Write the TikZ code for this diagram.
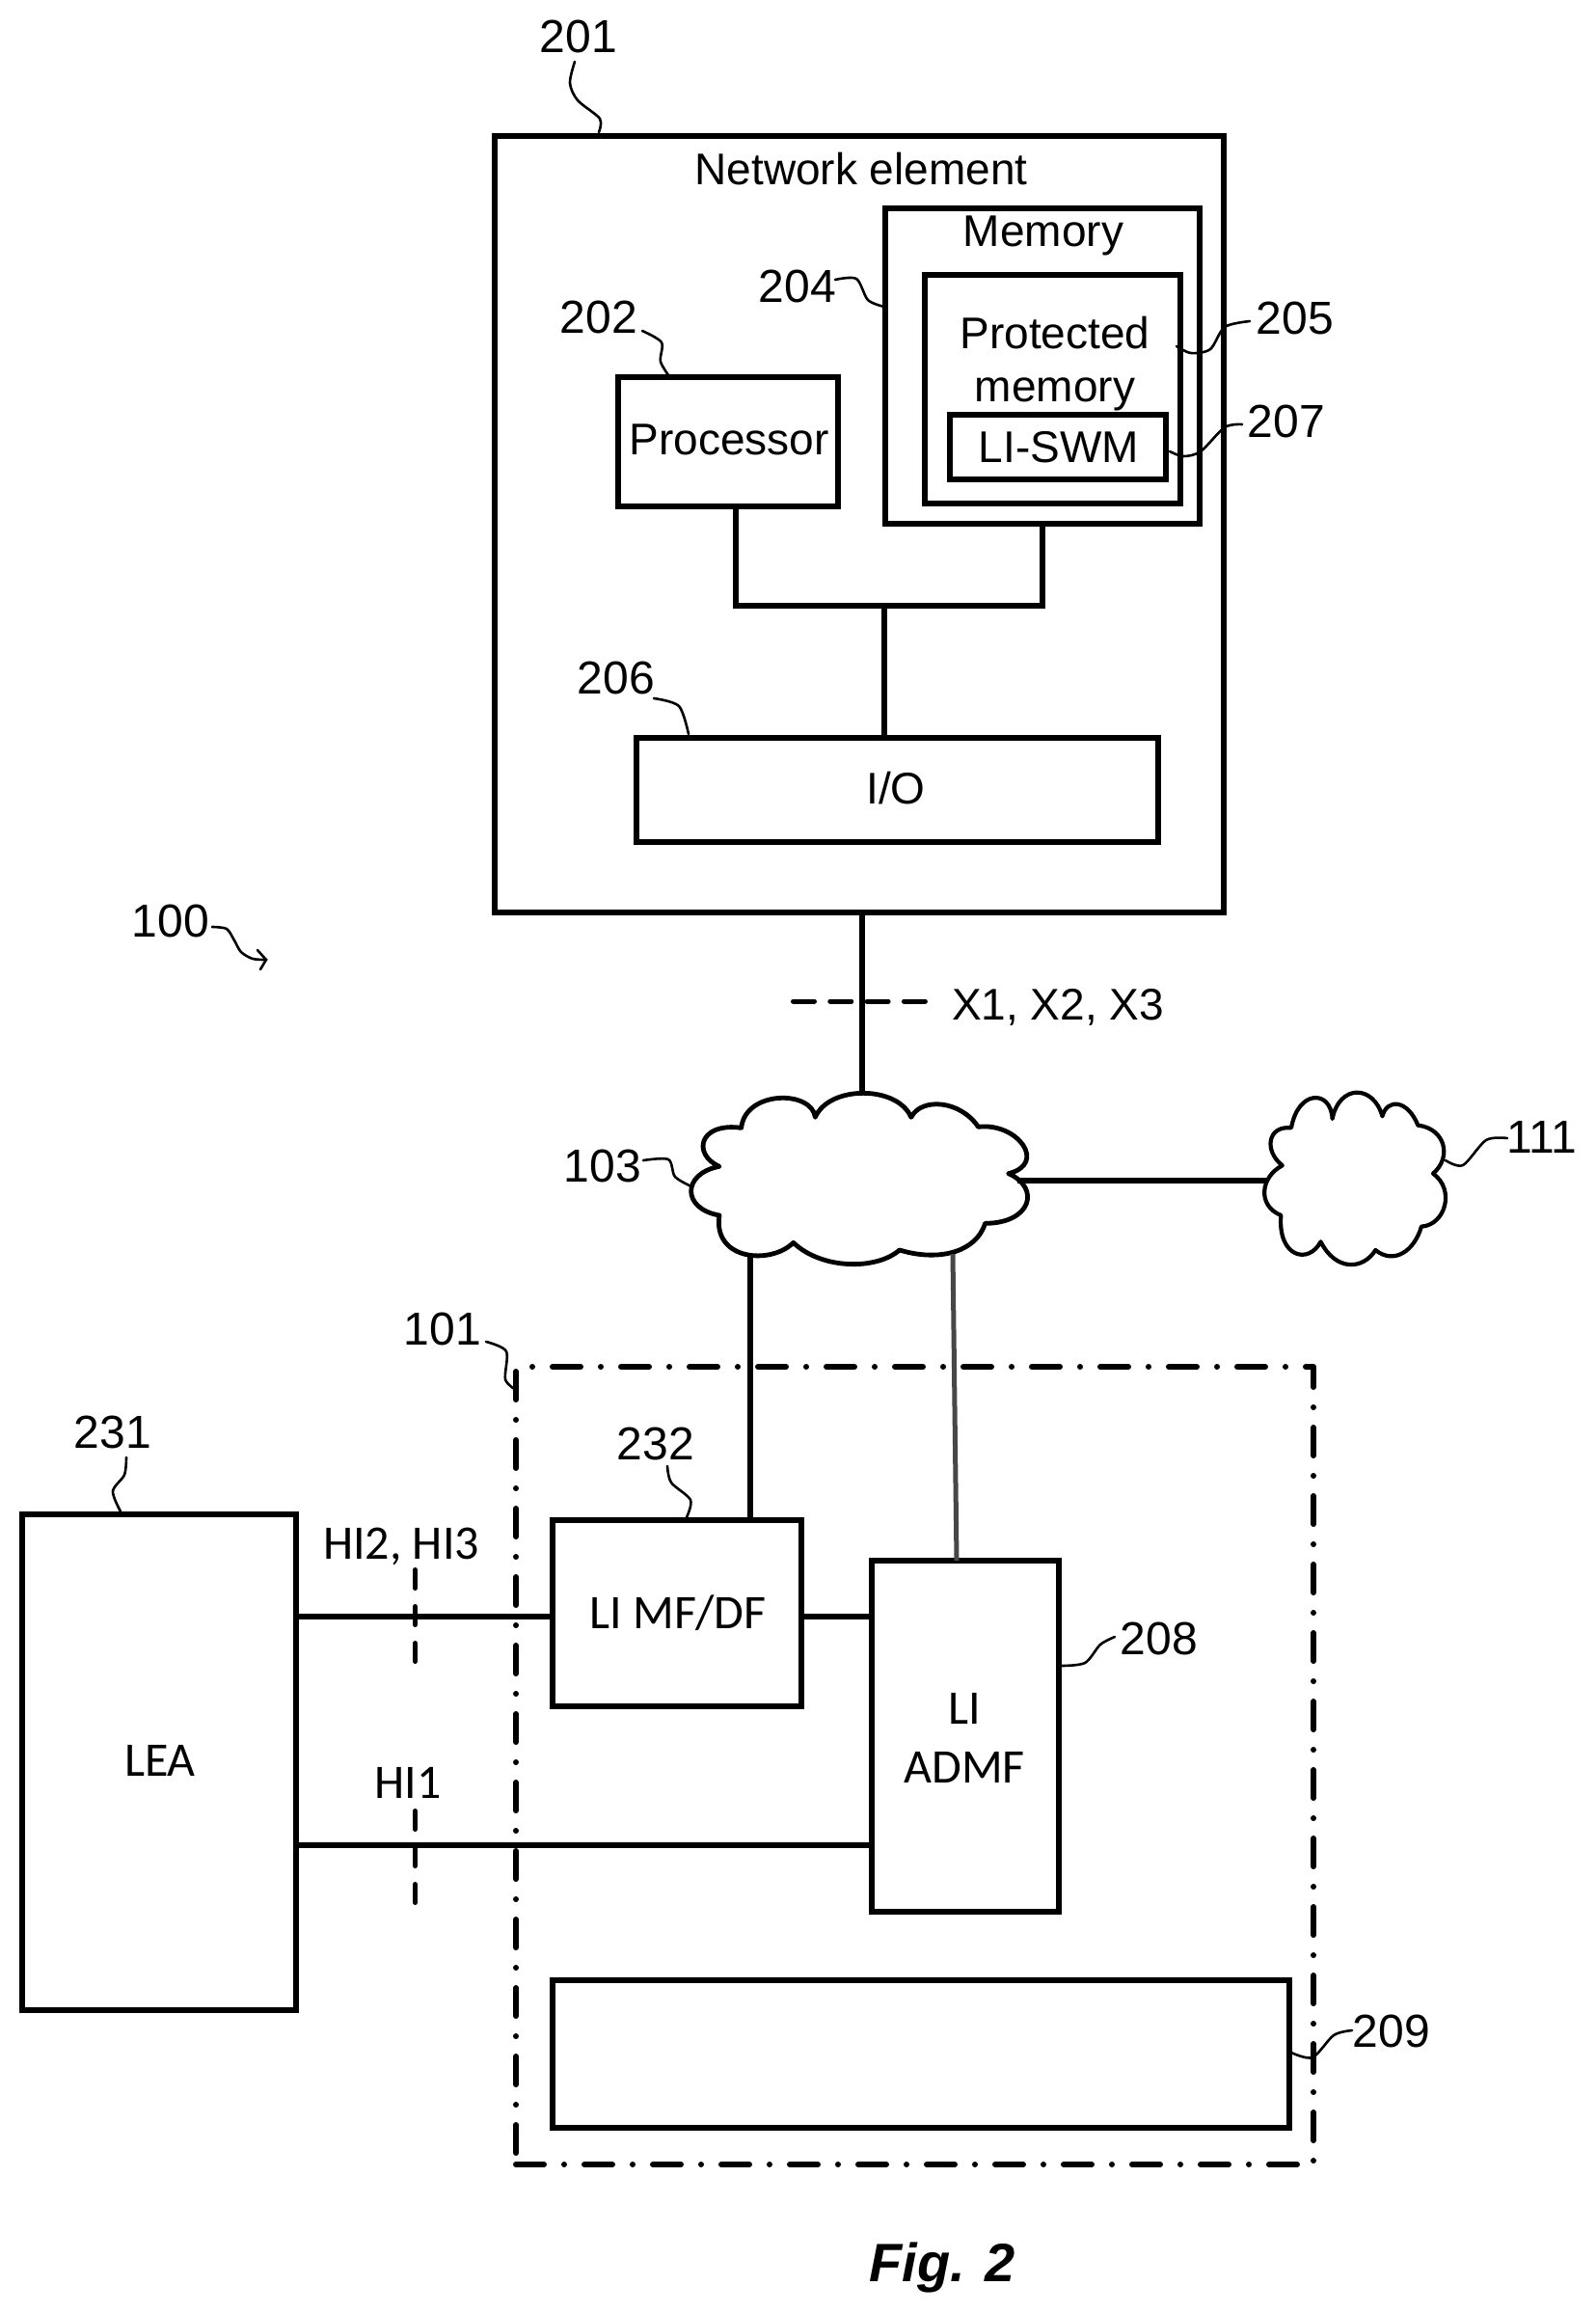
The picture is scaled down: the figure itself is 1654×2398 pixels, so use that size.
\documentclass[tikz,border=0pt]{standalone}
\usepackage{fontspec}
\setmainfont{Liberation Sans}
\newfontfamily\calib{Carlito}
\tikzset{
  boxn/.style={draw=black,line width=5.5pt,inner sep=0pt,outer sep=0pt,rectangle,line join=miter},
  artxt/.style={inner sep=0pt,outer sep=0pt,font=\fontsize{46}{50}\selectfont,text height=33pt,text depth=0pt},
  numtxt/.style={inner sep=0pt,outer sep=0pt,font=\fontsize{48}{52}\selectfont,text height=34pt,text depth=0pt},
  caltxt/.style={inner sep=0pt,outer sep=0pt,font=\calib\fontsize{50}{54}\selectfont,text height=32pt,text depth=0pt},
  wire/.style={line width=5.5pt,black},
  thinwire/.style={line width=5pt,black!72},
  leader/.style={line width=2.6pt,black,line cap=round},
  cloudline/.style={line width=4.8pt,black,line join=round},
  tickline/.style={line width=5pt,black,line cap=round,dash pattern=on 19pt off 19pt},
  frameline/.style={line width=6pt,black,line cap=round,line join=round,dash pattern=on 29pt off 21pt on 0.01pt off 20.99pt},
}
\begin{document}
\begin{tikzpicture}[x=1pt,y=-1pt]
\useasboundingbox (0,0) rectangle (1654,2398);
\fill[white] (0,0) rectangle (1654,2398);

% boxes
\node[boxn,minimum width=756pt,minimum height=805pt] (net) at (891,543.5) {};
\node[boxn,minimum width=326pt,minimum height=327pt] (mem) at (1081,379.5) {};
\node[boxn,minimum width=265pt,minimum height=237pt] (prot) at (1091.5,403.5) {};
\node[boxn,minimum width=224pt,minimum height=67pt] (swm) at (1097,463.5) {};
\node[boxn,minimum width=228pt,minimum height=134pt] (proc) at (755,458) {};
\node[boxn,minimum width=541pt,minimum height=108pt] (io) at (930.5,819) {};
\node[boxn,minimum width=258pt,minimum height=193pt] (mfdf) at (702,1672.5) {};
\node[boxn,minimum width=194pt,minimum height=364pt] (admf) at (1001,1800) {};
\node[boxn,minimum width=764pt,minimum height=153pt] (blank) at (955,2129.5) {};
\node[boxn,minimum width=284pt,minimum height=514pt] (lea) at (165,1827) {};

% clouds
\begin{scope}[shift={(540,1050)},x=0.7102pt,y=-0.3333pt]
\draw[cloudline] (322,358) .. controls (328,240) and (425,240) .. (430,325)
 .. controls (450,225) and (550,225) .. (570,325)
 .. controls (585,262) and (642,272) .. (668,355)
 .. controls (725,340) and (770,470) .. (712,500)
 .. controls (760,545) and (745,655) .. (678,655)
 .. controls (665,745) and (610,775) .. (553,738)
 .. controls (520,800) and (440,800) .. (398,715)
 .. controls (365,785) and (280,770) .. (290,630)
 .. controls (235,610) and (235,500) .. (290,478)
 .. controls (250,440) and (260,340) .. (322,358) -- cycle;
\draw[cloudline,line width=4.2pt] (1125,358) .. controls (1135,238) and (1183,238) .. (1185,330)
 .. controls (1195,222) and (1245,222) .. (1258,322)
 .. controls (1265,265) and (1295,270) .. (1310,350)
 .. controls (1350,360) and (1360,450) .. (1332,500)
 .. controls (1365,550) and (1350,660) .. (1315,665)
 .. controls (1305,740) and (1275,785) .. (1248,738)
 .. controls (1230,800) and (1190,805) .. (1168,712)
 .. controls (1150,785) and (1105,760) .. (1110,630)
 .. controls (1075,600) and (1080,510) .. (1112,475)
 .. controls (1085,430) and (1090,350) .. (1125,358) -- cycle;
\end{scope}
\coordinate (cA-top) at (894,1133);
\coordinate (cA-right) at (1055,1224);
\coordinate (cB-left) at (1314,1224);
\coordinate (cA-bl) at (778,1303);
\coordinate (cA-br) at (988,1300);

% wires
\coordinate (j1) at (763,628);
\coordinate (j2) at (1081,628);
\coordinate (j3) at (917,628);
\coordinate (j4) at (992,1618);
\draw[wire,line join=miter] (j1 |- proc.south) -- (j1) -- (j2) -- (j2 |- mem.south);
\draw[wire] (j3) -- (j3 |- io.north);
\draw[wire] (cA-top |- net.south) -- (cA-top);
\draw[wire] (cA-right) -- (cB-left);
\draw[wire] (cA-bl) -- (cA-bl |- mfdf.north);
\draw[thinwire] (cA-br) -- (j4);
\coordinate (hy1) at (0,1676);
\coordinate (hy2) at (0,1913);
\draw[wire] (hy1 -| lea.east) -- (hy1 -| mfdf.west);
\draw[wire] (hy1 -| mfdf.east) -- (hy1 -| admf.west);
\draw[wire] (hy2 -| lea.east) -- (hy2 -| admf.west);

% ticks
\coordinate (tx1) at (822.5,1038); \coordinate (tx2) at (959.5,1038);
\coordinate (t2a) at (430.5,1627.5); \coordinate (t2b) at (430.5,1722.5);
\coordinate (t1a) at (430.5,1877.5); \coordinate (t1b) at (430.5,1972.5);
\draw[tickline,dash pattern=on 22pt off 16.3pt] (tx1) -- (tx2);
\draw[tickline] (t2a) -- (t2b);
\draw[tickline] (t1a) -- (t1b);

% frame
\coordinate (ftl) at (535,1417); \coordinate (ftr) at (1362,1417);
\coordinate (fbl) at (535,2244); \coordinate (fbr) at (1362,2244);
\draw[frameline,dash phase=33pt] (ftl) -- (ftr) -- (fbr) -- (fbl);
\draw[frameline,dash phase=66pt] (ftl) -- (fbl);

% texts
\node[numtxt] (t201) at (600,37.5) {201};
\node[artxt] (tnet) at (893,175) {Network element};
\node[artxt] (tmem) at (1082,239) {Memory};
\node[numtxt] (t204) at (827,296) {204};
\node[numtxt] (t202) at (621,328) {202};
\node[artxt] (tprot) at (1094,345) {Protected};
\node[artxt] (tprot2) at (1094,399.5) {memory};
\node[artxt] (tswm) at (1098,462.5) {LI-SWM};
\node[artxt] (tproc) at (756,455) {Processor};
\node[numtxt] (t205) at (1343,329) {205};
\node[numtxt] (t207) at (1334,436) {207};
\node[numtxt] (t206) at (639,702) {206};
\node[artxt] (tio) at (929,817) {I/O};
\node[numtxt] (t100) at (177,954) {100};
\node[artxt] (tx) at (1097,1041) {X1, X2, X3};
\node[numtxt] (t103) at (625,1208) {103};
\node[numtxt] (t111) at (1599,1178) {111};
\node[numtxt] (t101) at (459,1377) {101};
\node[numtxt] (t231) at (117,1484) {231};
\node[numtxt] (t232) at (680,1496) {232};
\node[numtxt] (t208) at (1202,1698) {208};
\node[numtxt] (t209) at (1443,2105) {209};
\node[caltxt] (thi2) at (416,1600) {HI2, HI3};
\node[caltxt] (thi1) at (423,1848) {HI1};
\node[caltxt] (tlea) at (166,1825) {LEA};
\node[caltxt] (tmf) at (703,1672) {LI MF/DF};
\node[caltxt] (tli) at (1000,1771) {LI};
\node[caltxt] (tad) at (1000,1832) {ADMF};
\node[inner sep=0pt,font=\bfseries\itshape\fontsize{56}{60}\selectfont,text height=40pt,text depth=0pt] (tfig) at (977,2345) {Fig. 2};

% leaders
\draw[leader] plot[smooth] coordinates {(596,64) (591,86) (599,104) (622,123) (621,137)};
\draw[leader] plot[smooth] coordinates {(866,290) (888,289) (900,311) (917,318)};
\draw[leader] plot[smooth] coordinates {(666,343) (686,355) (685,375) (696,393)};
\draw[leader] plot[smooth] coordinates {(1220,359) (1235,366) (1255,362) (1270,339) (1296,333)};
\draw[leader] plot[smooth] coordinates {(1213,468) (1227,473) (1245,468) (1270,443) (1288,440)};
\draw[leader] plot[smooth] coordinates {(678,724) (704,732) (714,761)};
\draw[leader] plot[smooth] coordinates {(220,961) (235,963) (243,975) (250,987) (262,994) (276,995)};
\draw[leader,line join=miter] (267,985) -- (276,995) -- (270,1005);
\draw[leader] plot[smooth] coordinates {(667,1203) (693,1202) (700,1220) (717,1230)};
\draw[leader] plot[smooth] coordinates {(1499,1203) (1517,1208) (1541,1182) (1563,1180)};
\draw[leader] plot[smooth] coordinates {(504,1391) (525,1401) (524,1430) (535,1441)};
\draw[leader] plot[smooth] coordinates {(131,1511) (129,1529) (117,1546) (125,1567)};
\draw[leader] plot[smooth] coordinates {(692,1520) (696,1537) (716,1555) (712,1573)};
\draw[leader] plot[smooth] coordinates {(1100,1727) (1125,1724) (1141,1705) (1156,1697)};
\draw[leader] plot[smooth] coordinates {(1339,2128) (1361,2133) (1383,2110) (1402,2105)};
\end{tikzpicture}
\end{document}
